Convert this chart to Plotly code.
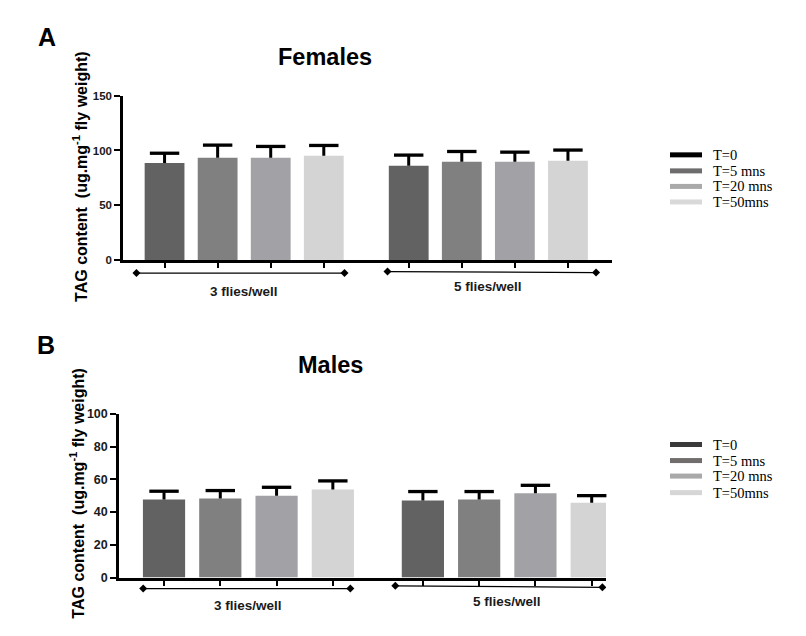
import plotly.graph_objects as go

# ---------------- data ----------------
times = ["T=0", "T=5 mns", "T=20 mns", "T=50mns"]
groups = ["3 flies/well", "5 flies/well"]

females_3 = [88.7, 93.3, 93.3, 95.1]
females_5 = [86.0, 89.7, 89.7, 90.6]
females_3_err = [8.8, 11.6, 10.4, 9.5]
females_5_err = [9.8, 9.4, 8.8, 9.8]

males_3 = [47.6, 48.2, 50.0, 53.7]
males_5 = [47.0, 47.6, 51.4, 45.7]
males_3_err = [5.1, 4.9, 5.1, 5.3]
males_5_err = [5.5, 4.9, 4.9, 4.3]

female_ticks = [0, 50, 100, 150]
male_ticks = [0, 20, 40, 60, 80, 100]

# ---------------- styles ----------------
bar_colors = ["#626262", "#808080", "#a2a1a6", "#d4d4d4"]
legend_colors_top = ["#000000", "#6e6c6c", "#a9a9a9", "#d9d9d9"]
legend_colors_bot = ["#3a3a3a", "#716d6d", "#a9a9a9", "#d6d6d6"]
SANS = "Liberation Sans, Arial, sans-serif"
SERIF = "Liberation Serif, Times New Roman, serif"
W, H = 806, 636
GAP = 1.6  # spacing offset between groups, in bar-slot units

# vertical layout helper: layout pixel row -> paper fraction (compensates page capture)
V_OFF, V_SCALE = 7.5, 0.9757


def py(y):
    return 1 - ((y - V_OFF) / V_SCALE) / H


def xpos(g, i):
    return g * (len(times) + GAP - 1) + i


fig = go.Figure()

panels = [
    dict(ax="", means=[females_3, females_5], errs=[females_3_err, females_5_err],
         ticks=female_ticks, px_x=(123, 612), px_y=(260, 96), xrange=(-0.783, 8.43),
         title="Females", title_xy=(325, 57), letter="A", letter_xy=(47, 37),
         ytitle_xy=(80, 177), legend_y=[155, 171, 186.5, 202], legend_colors=legend_colors_top,
         brackets=[(-0.53, 0.39, 273, 273), (-0.40, 0.53, 271.5, 272.5)],
         group_label_y=[291, 286], tickfont=11.5),
    dict(ax="2", means=[males_3, males_5], errs=[males_3_err, males_5_err],
         ticks=male_ticks, px_x=(119, 606), px_y=(576.7, 413.3), xrange=(-0.80, 7.854),
         title="Males", title_xy=(330, 365), letter="B", letter_xy=(46, 345),
         ytitle_xy=(77, 493), legend_y=[444, 460, 475.5, 492], legend_colors=legend_colors_bot,
         brackets=[(-0.37, 0.31, 587.7, 587.7), (-0.49, 0.19, 585, 586.5)],
         group_label_y=[605, 601], tickfont=12.5),
]

shapes = []
annotations = []
layout_axes = {}
DIAMOND = "M-4,0 L0,4 L4,0 L0,-4 Z"

for p in panels:
    ax = p["ax"]
    xref, yref = "x" + ax, "y" + ax
    ymax = p["ticks"][-1]
    py0, py1 = p["px_y"]

    # bars
    for i, t in enumerate(times):
        xs = [xpos(g, i) for g in range(len(groups))]
        ys = [p["means"][g][i] for g in range(len(groups))]
        fig.add_trace(go.Bar(
            x=xs, y=ys, width=0.75, name=t, showlegend=False,
            marker=dict(color=bar_colors[i], line=dict(width=0)),
            xaxis=xref, yaxis=yref, hoverinfo="skip",
        ))

    # upper-only error bars (stem + cap)
    for i, t in enumerate(times):
        sx, sy, cx, cy = [], [], [], []
        for g in range(len(groups)):
            m = p["means"][g][i]
            e = p["errs"][g][i]
            x = xpos(g, i)
            sx += [x, x, None]
            sy += [m, m + e, None]
            cx.append(x)
            cy.append(m + e)
        fig.add_trace(go.Scatter(x=sx, y=sy, mode="lines", line=dict(color="black", width=3),
                                 showlegend=False, xaxis=xref, yaxis=yref, hoverinfo="skip"))
        fig.add_trace(go.Scatter(x=cx, y=cy, mode="markers", cliponaxis=False,
                                 marker=dict(symbol="line-ew", size=21,
                                             line=dict(color="black", width=3.3)),
                                 showlegend=False, xaxis=xref, yaxis=yref, hoverinfo="skip"))

    # group brackets with diamond ends
    for g, (l, r, yl, yr) in enumerate(p["brackets"]):
        x0 = xpos(g, 0) + l
        x1 = xpos(g, len(times) - 1) + r
        shapes.append(dict(type="line", xref=xref, yref="paper", x0=x0, x1=x1,
                           y0=py(yl), y1=py(yr), line=dict(color="black", width=1.3)))
        for xa, ya in ((x0, yl), (x1, yr)):
            shapes.append(dict(type="path", xref=xref, yref="paper", xsizemode="pixel",
                               ysizemode="pixel", xanchor=xa, yanchor=py(ya), path=DIAMOND,
                               fillcolor="black", line=dict(width=0)))
        xc = (xpos(g, 0) + xpos(g, len(times) - 1)) / 2
        annotations.append(dict(text="<b>" + groups[g] + "</b>", xref=xref, yref="paper", x=xc,
                                y=py(p["group_label_y"][g]), showarrow=False,
                                xanchor="center", yanchor="middle",
                                font=dict(family=SANS, size=13.5, color="#1a1a1a")))

    tickvals = [xpos(g, i) for g in range(len(groups)) for i in range(len(times))]
    layout_axes["xaxis" + ax] = dict(
        domain=[p["px_x"][0] / W, p["px_x"][1] / W], range=list(p["xrange"]), anchor=yref,
        showline=True, linecolor="black", linewidth=3, ticks="outside", ticklen=5,
        tickwidth=2, tickcolor="black", tickvals=tickvals, showticklabels=False,
        showgrid=False, zeroline=False, fixedrange=True)
    layout_axes["yaxis" + ax] = dict(
        domain=[py(py0), py(py1)], range=[0, ymax], anchor=xref,
        tickvals=p["ticks"], showline=True, linecolor="black", linewidth=2.5,
        ticks="outside", ticklen=6, tickwidth=2, tickcolor="black",
        tickfont=dict(family=SANS, size=p["tickfont"], color="#1a1a1a", weight="bold"),
        showgrid=False, zeroline=False, fixedrange=True)

    # titles, panel letters, y title
    annotations.append(dict(text="<b>" + p["title"] + "</b>", xref="paper", yref="paper",
                            x=p["title_xy"][0] / W, y=py(p["title_xy"][1]), showarrow=False,
                            xanchor="center", yanchor="middle",
                            font=dict(family=SANS, size=23.5, color="black")))
    annotations.append(dict(text="<b>" + p["letter"] + "</b>", xref="paper", yref="paper",
                            x=p["letter_xy"][0] / W, y=py(p["letter_xy"][1]), showarrow=False,
                            xanchor="center", yanchor="middle",
                            font=dict(family=SANS, size=25, color="black")))
    annotations.append(dict(text="<b>TAG content  (ug.mg<sup>-1</sup> fly weight)</b>",
                            xref="paper", yref="paper", textangle=-90,
                            x=p["ytitle_xy"][0] / W, y=py(p["ytitle_xy"][1]), showarrow=False,
                            xanchor="center", yanchor="middle",
                            font=dict(family=SANS, size=16, color="black")))

    # manual legend
    for i, t in enumerate(times):
        ly = py(p["legend_y"][i])
        shapes.append(dict(type="line", xref="paper", yref="paper", x0=670 / W, x1=702 / W,
                           y0=ly, y1=ly, line=dict(color=p["legend_colors"][i], width=5)))
        annotations.append(dict(text=t, xref="paper", yref="paper", x=711 / W, y=ly,
                                showarrow=False, xanchor="left", yanchor="middle",
                                font=dict(family=SERIF, size=14.5, color="black")))

fig.update_layout(
    width=W, height=H, margin=dict(l=0, r=0, t=0, b=0),
    paper_bgcolor="white", plot_bgcolor="white",
    showlegend=False, barmode="overlay",
    shapes=shapes, annotations=annotations,
    **layout_axes,
)

fig.write_html(
    "out.html",
    config={"displayModeBar": False},
    post_script=("document.documentElement.style.margin='0';"
                 "document.body.style.margin='0';"
                 "document.documentElement.style.overflow='hidden';"
                 "document.body.style.overflow='hidden';"),
)
